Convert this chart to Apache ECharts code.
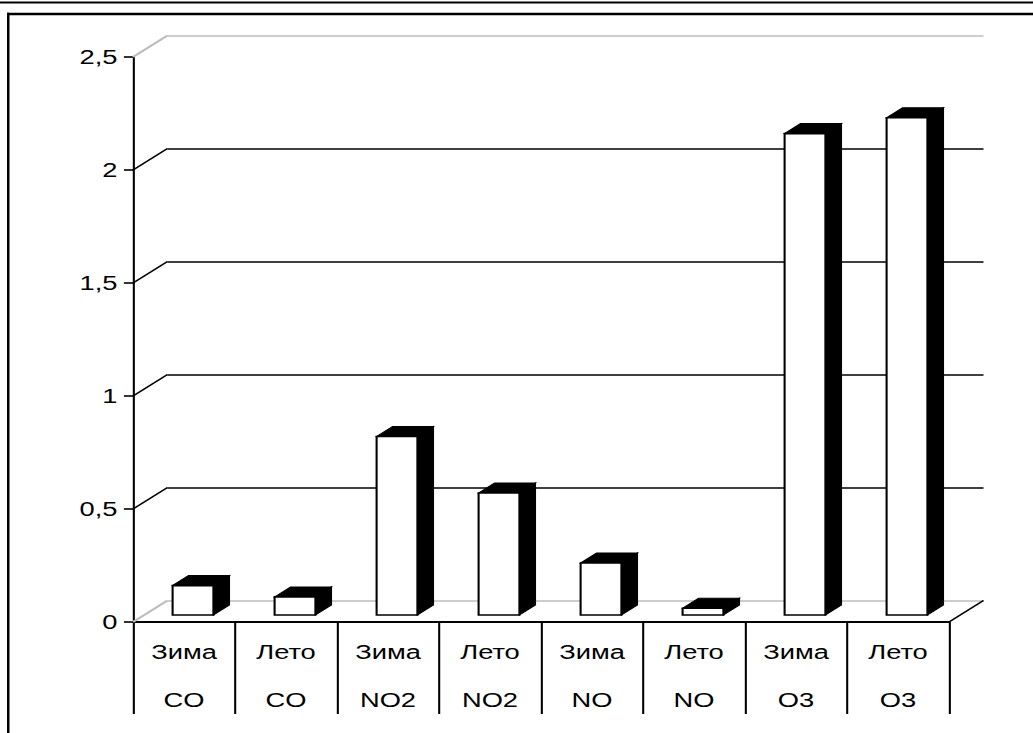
<!DOCTYPE html>
<html>
<head>
<meta charset="utf-8">
<script src="https://cdn.jsdelivr.net/npm/echarts@6/dist/echarts.min.js"></script>
<style>
  html, body { margin: 0; padding: 0; background: #fff; overflow: hidden; }
  /* the chart is laid out narrow and widened so the lettering gets its broad look */
  #chart { width: 795px; height: 733px; transform: scaleX(1.29937); transform-origin: 0 0; }
</style>
</head>
<body>
<div id="chart"></div>
<script>
// ---- data ----
const seasons = ['Зима', 'Лето', 'Зима', 'Лето', 'Зима', 'Лето', 'Зима', 'Лето'];
const gases = ['CO', 'CO', 'NO2', 'NO2', 'NO', 'NO', 'O3', 'O3'];
const values = [0.13, 0.08, 0.79, 0.54, 0.23, 0.03, 2.13, 2.2];
const yTicks = [0, 0.5, 1, 1.5, 2, 2.5];
const yTickLabels = ['0', '0,5', '1', '1,5', '2', '2,5'];

// ---- layout (pre-stretch units) ----
const K = 1033 / 795;
const FRONT = { left: 133 / K, top: 57, width: 816 / K, height: 565 };
const DX = 34.5 / K, DY = 21.5;          // depth of the floor / back wall
const SX = 9 / K, SY = 7;                // bar front plane behind the floor edge
const BDX = 16 / K, BDY = 10;            // bar depth
const GREY = '#bdbdbd';
const FONT = "'Liberation Sans', Arial, sans-serif";

const categories = seasons.map((s, i) => s + '\n' + gases[i]);
const yMin = yTicks[0], yMax = yTicks[yTicks.length - 1];
const yStep = yTicks[1] - yTicks[0];

function renderBox(params, api) {
  const i = api.value(0), v = api.value(1);
  const base = api.coord([i, 0]);
  const top = api.coord([i, v]);
  const bw = api.size([1, 0])[0] * 0.4;
  const xl = base[0] - bw / 2 + SX, xr = xl + bw;
  const yb = base[1] - SY, yt = top[1] - SY;
  return {
    type: 'group',
    children: [
      { type: 'polygon', shape: { points: [[xr, yt], [xr + BDX, yt - BDY], [xr + BDX, yb - BDY], [xr, yb]] },
        style: { fill: '#000', stroke: '#000', lineWidth: 1 } },
      { type: 'polygon', shape: { points: [[xl, yt], [xr, yt], [xr + BDX, yt - BDY], [xl + BDX, yt - BDY]] },
        style: { fill: '#000', stroke: '#000', lineWidth: 1 } },
      { type: 'rect', shape: { x: xl, y: yt, width: bw, height: yb - yt },
        style: { fill: '#fff', stroke: '#000', lineWidth: 1.6 } }
    ]
  };
}

// connectors between the front axis and the back wall
function renderDiagonal(params, api) {
  const v = api.value(1);
  const y = api.coord([0, v])[1];
  const x0 = params.coordSys.x;
  const edge = (v === yMin || v === yMax);
  return {
    type: 'line',
    shape: { x1: x0, y1: y, x2: x0 + DX, y2: y - DY },
    style: { stroke: edge ? GREY : '#000', lineWidth: edge ? 2 : 1.6 }
  };
}

function renderFloorEdge(params, api) {
  const y = api.coord([0, 0])[1];
  const x0 = params.coordSys.x + params.coordSys.width;
  return {
    type: 'line',
    shape: { x1: x0, y1: y, x2: x0 + DX, y2: y - DY },
    style: { stroke: '#000', lineWidth: 1.6 }
  };
}

const chart = echarts.init(document.getElementById('chart'), null, { renderer: 'svg' });

chart.setOption({
  animation: false,
  backgroundColor: '#fff',
  grid: [
    { left: FRONT.left, top: FRONT.top, width: FRONT.width, height: FRONT.height },
    { left: FRONT.left + DX, top: FRONT.top - DY, width: FRONT.width, height: FRONT.height }
  ],
  xAxis: [
    {
      type: 'category', gridIndex: 0, data: categories, boundaryGap: true,
      axisLine: { show: true, lineStyle: { color: '#000', width: 2 } },
      axisTick: { show: true, interval: 0, length: 92, inside: false, lineStyle: { color: '#000', width: 1.6 } },
      axisLabel: { interval: 0, margin: 6, color: '#000', fontSize: 21, fontFamily: FONT, lineHeight: 48 },
      splitLine: { show: false }
    },
    { type: 'category', gridIndex: 1, data: categories, show: false }
  ],
  yAxis: [
    {
      type: 'value', gridIndex: 0, min: yMin, max: yMax, interval: yStep,
      axisLine: { show: true, lineStyle: { color: '#000', width: 1.6 } },
      axisTick: { show: true, length: 7, lineStyle: { color: '#000', width: 1.6 } },
      axisLabel: {
        margin: 12, color: '#000', fontSize: 21, fontFamily: FONT,
        formatter: (val) => yTickLabels[yTicks.indexOf(val)] ?? ''
      },
      splitLine: { show: false }
    },
    {
      type: 'value', gridIndex: 1, min: yMin, max: yMax, interval: yStep,
      axisLine: { show: false }, axisTick: { show: false }, axisLabel: { show: false },
      splitLine: {
        show: true,
        lineStyle: { color: yTicks.map(v => (v === yMin || v === yMax) ? GREY : '#000'), width: 1.7 }
      }
    }
  ],
  series: [
    {
      type: 'custom', xAxisIndex: 0, yAxisIndex: 0, silent: true,
      renderItem: renderDiagonal,
      data: yTicks.map(v => [0, v])
    },
    {
      type: 'custom', xAxisIndex: 0, yAxisIndex: 0, silent: true,
      renderItem: renderFloorEdge,
      data: [[0, 0]]
    },
    {
      type: 'custom', xAxisIndex: 0, yAxisIndex: 0, silent: true,
      renderItem: renderBox,
      data: values.map((v, i) => [i, v])
    }
  ],
  graphic: [
    { type: 'rect', shape: { x: 0, y: 1.5, width: 795, height: 2 }, style: { fill: '#000' } },
    { type: 'rect', shape: { x: 7 / K, y: 12.7, width: 795, height: 2.5 }, style: { fill: '#000' } },
    { type: 'rect', shape: { x: 7 / K, y: 12.7, width: 2.5 / K, height: 733 }, style: { fill: '#000' } }
  ]
});
</script>
</body>
</html>
